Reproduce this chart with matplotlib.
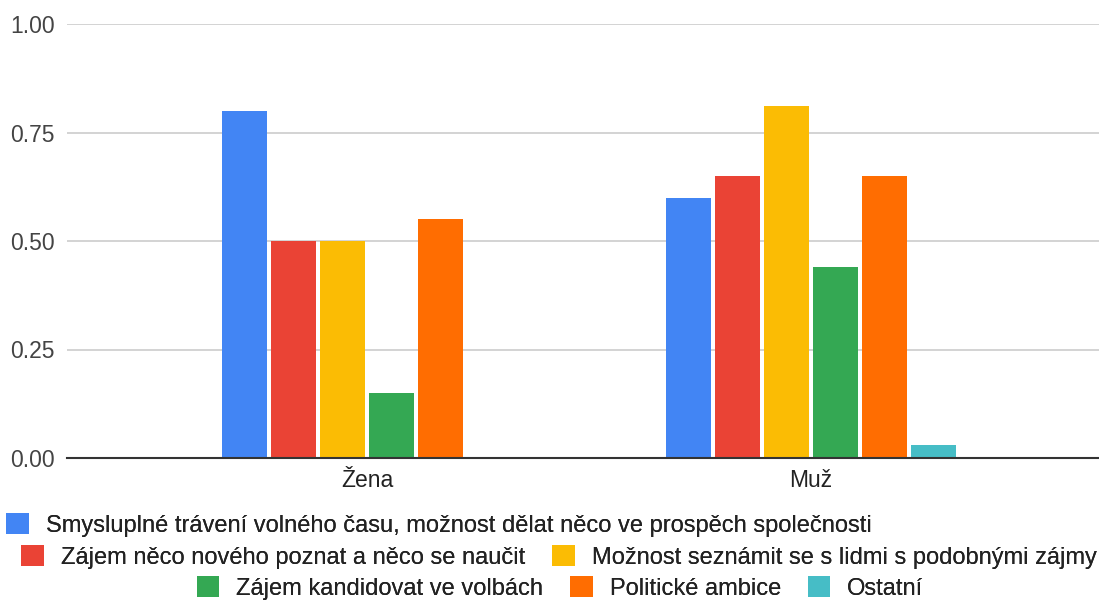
import matplotlib.pyplot as plt
import numpy as np

plt.rcParams['font.family'] = ['Liberation Sans', 'DejaVu Sans']

categories = ["Žena", "Muž"]
series_names = [
    "Smysluplné trávení volného času, možnost dělat něco ve prospěch společnosti",
    "Zájem něco nového poznat a něco se naučit",
    "Možnost seznámit se s lidmi s podobnými zájmy",
    "Zájem kandidovat ve volbách",
    "Politické ambice",
    "Ostatní",
]
zena = [0.80, 0.50, 0.50, 0.15, 0.55, 0.0]
muz = [0.60, 0.65, 0.81, 0.44, 0.65, 0.03]
colors = ["#4285F4", "#EA4335", "#FBBC04", "#34A853", "#FF6D01", "#46BDC6"]
yticks = [0.0, 0.25, 0.5, 0.75, 1.0]


def main():
    fig = plt.figure(figsize=(10.99, 6.01), dpi=100)
    ax = fig.add_axes([67 / 1099, 1 - 458 / 601, 1 - 67 / 1099, 434 / 601])

    x = np.arange(len(categories))
    pitch = 49 / 444
    width = 45 / 444
    handles = []
    for i, name in enumerate(series_names):
        vals = [zena[i], muz[i]]
        off = (i - 2.5) * pitch
        b = ax.bar(x + off, vals, width, color=colors[i], label=name, zorder=3)
        handles.append(b)

    ax.set_xlim(-0.676, 1.649)
    ax.set_ylim(0, 1.0)
    ax.set_yticks(yticks)
    ax.set_yticklabels([f"{v:.2f}" for v in yticks])
    ax.set_xticks(x)
    ax.set_xticklabels(categories)
    ax.tick_params(axis='y', length=0, pad=9, labelsize=16.5, labelcolor="#444444")
    ax.tick_params(axis='x', length=0, pad=8, labelsize=16.5, labelcolor="#222222")
    ax.grid(axis='y', color="#cccccc", linewidth=1.2, zorder=0)
    ax.set_axisbelow(True)
    for s in ["top", "right", "left"]:
        ax.spines[s].set_visible(False)
    ax.spines["bottom"].set_color("#333333")
    ax.spines["bottom"].set_linewidth(1.5)
    ax.spines["bottom"].set_zorder(4)

    # legend laid out in three centred rows like the original
    rows = [([0], 439, 525), ([1, 2], 559, 557), ([3, 4, 5], 560, 588)]
    for idx, cx, cy in rows:
        leg = fig.legend([handles[i] for i in idx], [series_names[i] for i in idx],
                         loc="center", bbox_to_anchor=(cx / 1099, 1 - cy / 601),
                         ncol=len(idx), frameon=False, fontsize=17,
                         handlelength=0.95, handleheight=1.0, handletextpad=0.72,
                         columnspacing=1.15, borderpad=0, labelcolor="#222222")
        fig.add_artist(leg)

    plt.savefig("out.png", dpi=100)
    plt.close()


if __name__ == "__main__":
    main()
